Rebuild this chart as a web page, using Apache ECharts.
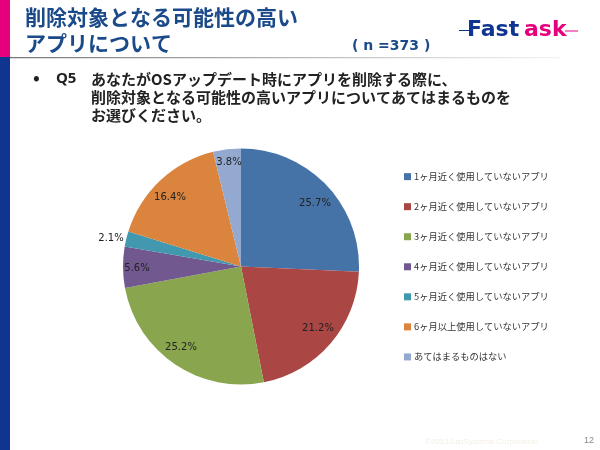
<!DOCTYPE html>
<html><head><meta charset="utf-8">
<style>html,body{margin:0;padding:0;background:#fff}#c{width:600px;height:450px}</style>
<script src="https://cdn.jsdelivr.net/npm/echarts@6/dist/echarts.min.js"></script></head>
<body><div id="c"></div>
<script>
const categories = ['1ヶ月近く使用していないアプリ','2ヶ月近く使用していないアプリ','3ヶ月近く使用していないアプリ','4ヶ月近く使用していないアプリ','5ヶ月近く使用していないアプリ','6ヶ月以上使用していないアプリ','あてはまるものはない'];
const values = [25.7,21.2,25.2,5.6,2.1,16.4,3.8];
const colors = ['#4572A7','#AA4643','#89A54E','#71588F','#4198AF','#DB843D','#93A9CF'];
const titleLines = ['削除対象となる可能性の高い','アプリについて'];
const sampleText = '( n =373 )';
const questionLines = ['あなたがOSアップデート時にアプリを削除する際に、','削除対象となる可能性の高いアプリについてあてはまるものを','お選びください。'];
const labelCentres = [[315,203],[318,328],[181,347],[137,268],[111,238],[170,197],[229,162]];
const JP = '"Noto Sans CJK JP","Noto Sans",sans-serif';
const DV = '"DejaVu Sans",sans-serif';
const chart = echarts.init(document.getElementById('c'), null, {renderer:'canvas'});
const txt = (x,y,text,fontSize,fill,extra) => ({type:'text',x,y,silent:true,style:Object.assign({text,fontSize,fontFamily:JP,fill,verticalAlign:'middle'},extra||{})});
const navy='#1B4A8A';
chart.setOption({
  animation:false,
  backgroundColor:'#fff',
  legend:{orient:'vertical',left:399,top:167,itemWidth:7,itemHeight:7,itemGap:20.8,icon:'rect',
    textStyle:{fontSize:9.25,fontFamily:JP,color:'#333',padding:[0,0,0,-2]},data:categories},
  series:[{type:'pie',center:[241,266.5],radius:[0,118],startAngle:90,clockwise:true,
    data:categories.map((name,i)=>({name,value:values[i],itemStyle:{color:colors[i]}})),
    label:{show:true,position:'inside',formatter:p=>p.value.toFixed(1)+'%',fontSize:10,fontFamily:DV,color:'#222',align:'center',verticalAlign:'middle'},
    labelLine:{show:false},
    labelLayout:p=>({x:labelCentres[p.dataIndex][0],y:labelCentres[p.dataIndex][1],align:'center',verticalAlign:'middle'}),
    emphasis:{disabled:true}
  }],
  graphic:[
    {type:'rect',silent:true,shape:{x:0,y:0,width:10,height:57},style:{fill:'#E6007E'}},
    {type:'rect',silent:true,shape:{x:0,y:57,width:10,height:393},style:{fill:'#0F3591'}},
    {type:'rect',silent:true,shape:{x:10,y:57,width:550,height:1.2},style:{fill:new echarts.graphic.LinearGradient(0,0,1,0,[{offset:0,color:'#777'},{offset:1,color:'#f4f4f4'}])}},
    txt(25,17,titleLines[0],21,navy,{fontWeight:'bold'}),
    txt(25,43,titleLines[1],21,navy,{fontWeight:'bold'}),
    txt(352,46,sampleText,14,navy,{fontWeight:'bold',fontFamily:DV}),
    txt(33,77,'•',18,'#222',{fontWeight:'bold'}),
    txt(56,79,'Q5',15,'#222',{fontWeight:'bold',fontFamily:'"Noto Sans",sans-serif'}),
    txt(91,79,questionLines[0],15,'#222',{fontWeight:'bold'}),
    txt(91,97,questionLines[1],15,'#222',{fontWeight:'bold'}),
    txt(91,115,questionLines[2],15,'#222',{fontWeight:'bold'}),
    {type:'rect',silent:true,shape:{x:459,y:30,width:10,height:1},style:{fill:'#0F3591'}},
    {type:'rect',silent:true,shape:{x:565,y:30.5,width:13,height:1},style:{fill:'#E6007E'}},
    txt(467,30,'Fast',22,'#0F3591',{fontWeight:'bold',fontFamily:DV}),
    txt(524,30,'ask',22,'#E6007E',{fontWeight:'bold',fontFamily:DV}),
    txt(425,442,'©2013JustSystems Corporation',8,'#F3EFE6',{fontFamily:'"Liberation Sans",sans-serif'}),
    txt(584,441,'12',9,'#888',{fontFamily:'"Liberation Sans",sans-serif'})
  ]
});
</script></body></html>
